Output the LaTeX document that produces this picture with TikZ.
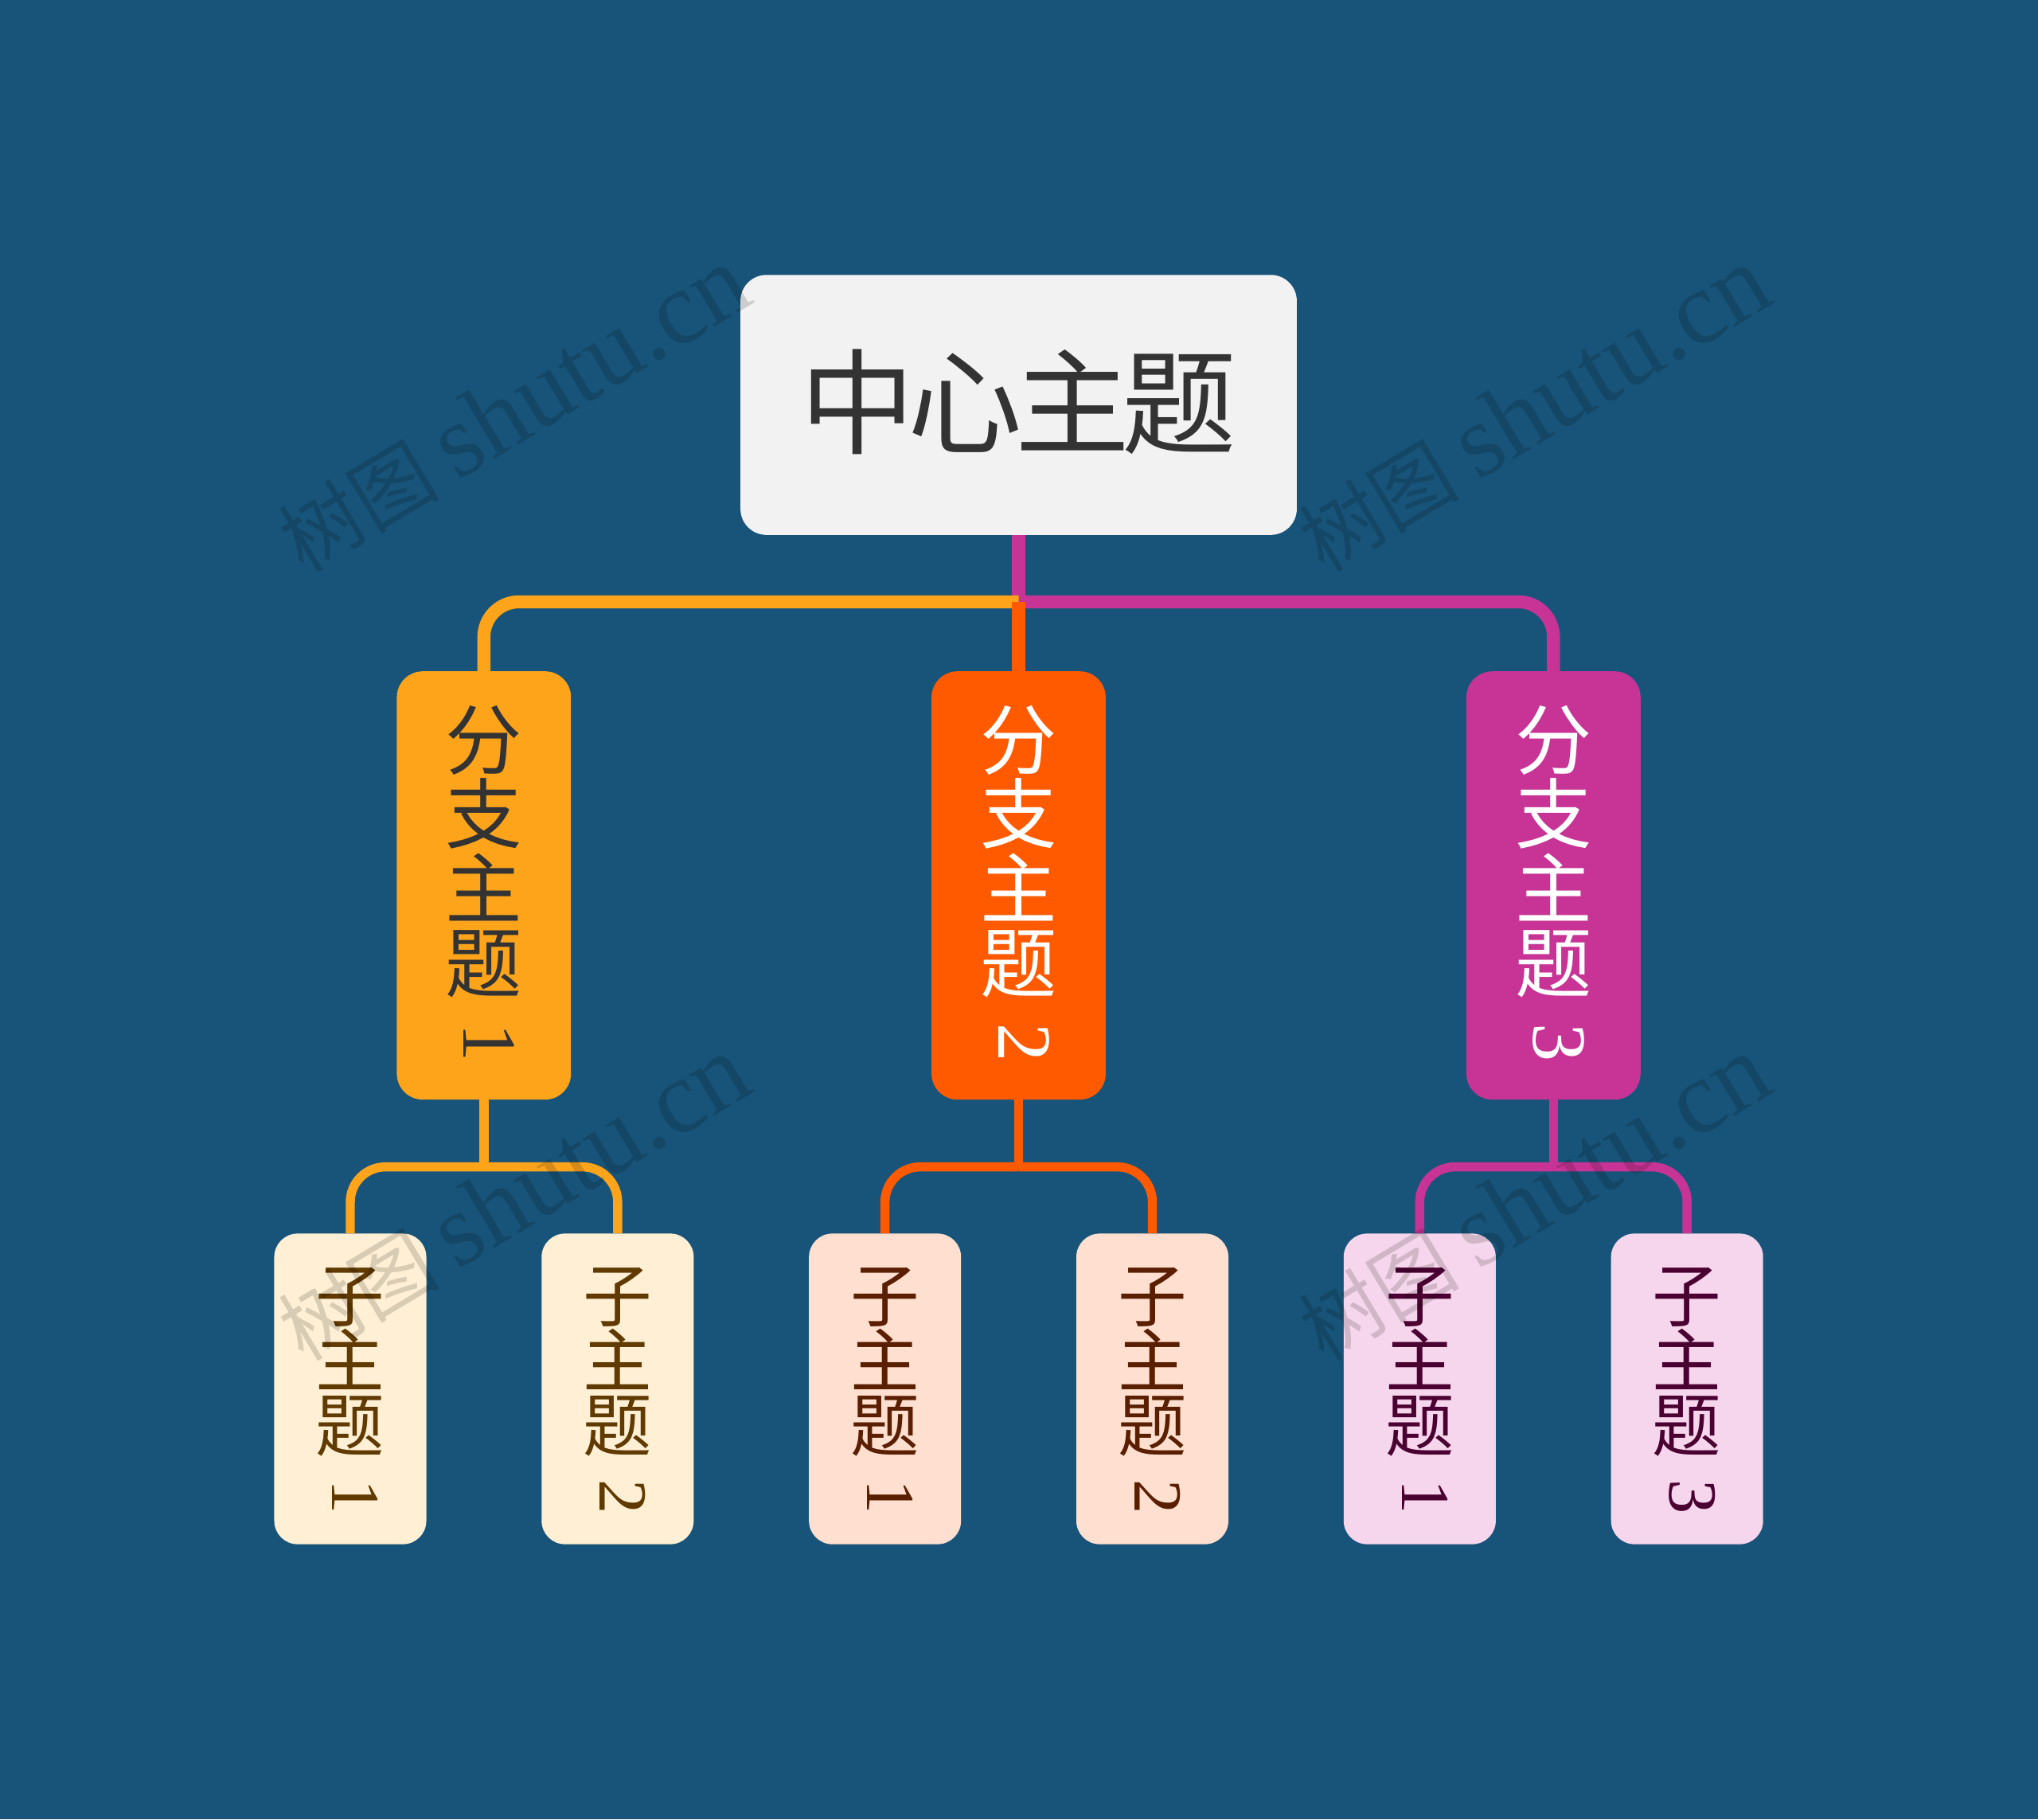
\documentclass[tikz,border=0pt]{standalone}
\usepackage{fontspec}
\newfontfamily\cjk{Noto Sans CJK SC}
\newfontfamily\dig{Liberation Serif}
\newfontfamily\wmf{Liberation Serif}
\definecolor{bgc}{RGB}{24,84,121}
\definecolor{cfill}{RGB}{242,242,242}
\definecolor{ctext}{RGB}{51,51,51}
\definecolor{corg}{RGB}{253,164,27}
\definecolor{cred}{RGB}{255,90,0}
\definecolor{cmag}{RGB}{199,52,150}
\definecolor{k1fill}{RGB}{255,240,213}
\definecolor{k1text}{RGB}{96,58,0}
\definecolor{k2fill}{RGB}{255,224,208}
\definecolor{k2text}{RGB}{90,30,0}
\definecolor{k3fill}{RGB}{246,214,236}
\definecolor{k3text}{RGB}{75,0,50}
\newcommand\vstk[4]{\vbox{\baselineskip=#1\lineskiplimit=-\maxdimen\lineskip=0pt
  \halign{\hfil##\hfil\cr#3\noalign{\vskip#2}\rotatebox[origin=c]{-90}{\dig #4}\kern-8pt\cr}}}
\begin{document}
\begin{tikzpicture}[x=1pt,y=-1pt,
  cbox/.style={rectangle, rounded corners=20pt, fill=cfill, text=ctext,
    minimum width=428pt, minimum height=200pt, inner sep=0pt,
    font=\cjk\fontsize{88}{88}\selectfont, text height=62pt, text depth=0pt},
  bbox/.style={rectangle, rounded corners=20pt, fill=#1,
    minimum width=134pt, minimum height=329.5pt, inner sep=0pt,
    font=\cjk\fontsize{59}{59}\selectfont, text height=280.8pt, text depth=0pt},
  kbox/.style={rectangle, rounded corners=18pt,
    minimum width=117pt, minimum height=239pt, inner sep=0pt,
    font=\cjk\fontsize{53}{53}\selectfont, text height=200.8pt, text depth=0pt},
  mainline/.style={line width=10pt},
  subline/.style={line width=7pt},
  wmark/.style={rotate=31, text=black, text opacity=0.15, inner sep=0pt}
]
\fill[bgc] (0,0) rectangle (1568,1399.6);
\useasboundingbox (0,0) rectangle (1568,1399.6);

% central topic
\node[cbox] (c) at (783.7,311.5) {中\kern-5.5pt 心\kern-5.5pt 主\kern-5.5pt 题};

% branches
\node[bbox=corg, text=ctext] (b1) at (372.3,681.2) {\vstk{57pt}{2pt}{分\cr 支\cr 主\cr 题\cr}{1}};
\node[bbox=cred, text=white] (b2) at (783.7,681.2) {\vstk{57pt}{2pt}{分\cr 支\cr 主\cr 题\cr}{2}};
\node[bbox=cmag, text=white] (b3) at (1195.2,681.2) {\vstk{57pt}{2pt}{分\cr 支\cr 主\cr 题\cr}{3}};

% sub topics
\node[kbox, fill=k1fill, text=k1text] (k11) at (269.5,1068.5) {\vstk{50pt}{2.4pt}{子\cr 主\cr 题\cr}{1}};
\node[kbox, fill=k1fill, text=k1text] (k12) at (475.2,1068.5) {\vstk{50pt}{2.4pt}{子\cr 主\cr 题\cr}{2}};
\node[kbox, fill=k2fill, text=k2text] (k21) at (680.9,1068.5) {\vstk{50pt}{2.4pt}{子\cr 主\cr 题\cr}{1}};
\node[kbox, fill=k2fill, text=k2text] (k22) at (886.6,1068.5) {\vstk{50pt}{2.4pt}{子\cr 主\cr 题\cr}{2}};
\node[kbox, fill=k3fill, text=k3text] (k31) at (1092.3,1068.5) {\vstk{50pt}{2.4pt}{子\cr 主\cr 题\cr}{1}};
\node[kbox, fill=k3fill, text=k3text] (k32) at (1298,1068.5) {\vstk{50pt}{2.4pt}{子\cr 主\cr 题\cr}{3}};

% main connectors
\coordinate (j) at (c.south |- 0,463);
\draw[mainline, cmag] (c.south) -- (j);
\draw[mainline, cmag, rounded corners=27pt] (j) -| (b3.north);
\draw[mainline, corg, rounded corners=27pt] (j) -| (b1.north);
\draw[mainline, cred] (j) -- (b2.north);

% sub connectors
\coordinate (s1) at (b1.south |- 0,897.7);
\coordinate (s2) at (b2.south |- 0,897.7);
\coordinate (s3) at (b3.south |- 0,897.7);
\draw[subline, corg] (b1.south) -- (s1);
\draw[subline, corg, rounded corners=27pt] (s1) -| (k11.north);
\draw[subline, corg, rounded corners=27pt] (s1) -| (k12.north);
\draw[subline, cred] (b2.south) -- (s2);
\draw[subline, cred, rounded corners=27pt] (s2) -| (k21.north);
\draw[subline, cred, rounded corners=27pt] (s2) -| (k22.north);
\draw[subline, cmag] (b3.south) -- (s3);
\draw[subline, cmag, rounded corners=27pt] (s3) -| (k31.north);
\draw[subline, cmag, rounded corners=27pt] (s3) -| (k32.north);

% watermarks
\node[wmark] (w1) at (395,315) {{\cjk\fontsize{62}{62}\selectfont 树图}\hspace{14pt}{\wmf\fontsize{80}{80}\selectfont shutu.cn}};
\node[wmark] (w2) at (1180,315) {{\cjk\fontsize{62}{62}\selectfont 树图}\hspace{14pt}{\wmf\fontsize{80}{80}\selectfont shutu.cn}};
\node[wmark] (w3) at (395,922) {{\cjk\fontsize{62}{62}\selectfont 树图}\hspace{14pt}{\wmf\fontsize{80}{80}\selectfont shutu.cn}};
\node[wmark] (w4) at (1180,922) {{\cjk\fontsize{62}{62}\selectfont 树图}\hspace{14pt}{\wmf\fontsize{80}{80}\selectfont shutu.cn}};
\end{tikzpicture}
\end{document}
